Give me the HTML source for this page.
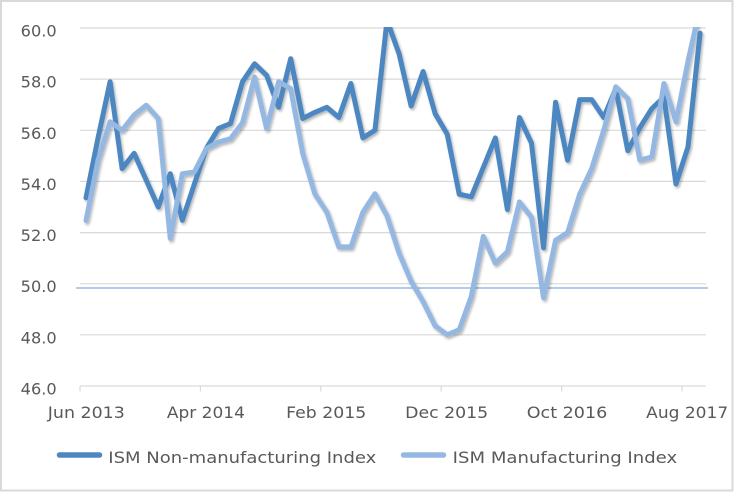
<!DOCTYPE html>
<html>
<head>
<meta charset="utf-8">
<style>
  html, body { margin: 0; padding: 0; background: #ffffff; }
  svg { display: block; }
  text { font-family: "DejaVu Sans", "Liberation Sans", sans-serif; fill: #595959; font-size: 16px; }
</style>
</head>
<body>
<svg width="734" height="493" viewBox="0 0 734 493" xmlns="http://www.w3.org/2000/svg">
  <defs>
    <clipPath id="plot">
      <rect x="76" y="27" width="640" height="370"/>
    </clipPath>
    <filter id="sh" x="-5%" y="-5%" width="110%" height="115%">
      <feDropShadow dx="1.5" dy="2" stdDeviation="1.3" flood-color="#000000" flood-opacity="0.28"/>
    </filter>
  </defs>

  <!-- chart border -->
  <rect x="1" y="1" width="731.5" height="489.5" fill="#ffffff" stroke="#d9d9d9" stroke-width="2"/>

  <!-- gridlines -->
  <g stroke="#d9d9d9" stroke-width="1.2">
    <line x1="80" y1="28" x2="706" y2="28"/>
    <line x1="80" y1="79.1" x2="706" y2="79.1"/>
    <line x1="80" y1="130.3" x2="706" y2="130.3"/>
    <line x1="80" y1="181.4" x2="706" y2="181.4"/>
    <line x1="80" y1="232.6" x2="706" y2="232.6"/>
    <line x1="80" y1="283.7" x2="706" y2="283.7"/>
    <line x1="80" y1="334.8" x2="706" y2="334.8"/>
    <line x1="80" y1="386" x2="706" y2="386"/>
  </g>
  <!-- ticks -->
  <g stroke="#d9d9d9" stroke-width="1.2">
    <line x1="80" y1="386" x2="80" y2="391.5"/>
    <line x1="200.4" y1="386" x2="200.4" y2="391.5"/>
    <line x1="320.8" y1="386" x2="320.8" y2="391.5"/>
    <line x1="441.2" y1="386" x2="441.2" y2="391.5"/>
    <line x1="561.6" y1="386" x2="561.6" y2="391.5"/>
    <line x1="682" y1="386" x2="682" y2="391.5"/>
  </g>

  <!-- 50 reference line -->
  <line x1="76" y1="288" x2="708" y2="288" stroke="#5b9bd5" stroke-width="1"/>

  <!-- y labels -->
  <g text-anchor="end">
    <text x="56.7" y="36.5" textLength="36" lengthAdjust="spacingAndGlyphs">60.0</text>
    <text x="56.7" y="87.6" textLength="36" lengthAdjust="spacingAndGlyphs">58.0</text>
    <text x="56.7" y="138.8" textLength="36" lengthAdjust="spacingAndGlyphs">56.0</text>
    <text x="56.7" y="189.9" textLength="36" lengthAdjust="spacingAndGlyphs">54.0</text>
    <text x="56.7" y="241.1" textLength="36" lengthAdjust="spacingAndGlyphs">52.0</text>
    <text x="56.7" y="292.2" textLength="36" lengthAdjust="spacingAndGlyphs">50.0</text>
    <text x="56.7" y="343.3" textLength="36" lengthAdjust="spacingAndGlyphs">48.0</text>
    <text x="56.7" y="394.5" textLength="36" lengthAdjust="spacingAndGlyphs">46.0</text>
  </g>

  <!-- x labels -->
  <g text-anchor="middle">
    <text x="86.3" y="418" textLength="77" lengthAdjust="spacingAndGlyphs">Jun 2013</text>
    <text x="205.9" y="418" textLength="78" lengthAdjust="spacingAndGlyphs">Apr 2014</text>
    <text x="326.2" y="418" textLength="80" lengthAdjust="spacingAndGlyphs">Feb 2015</text>
    <text x="446.7" y="418" textLength="83" lengthAdjust="spacingAndGlyphs">Dec 2015</text>
    <text x="567" y="418" textLength="80.5" lengthAdjust="spacingAndGlyphs">Oct 2016</text>
    <text x="687.2" y="418" textLength="82" lengthAdjust="spacingAndGlyphs">Aug 2017</text>
  </g>

  <!-- series -->
  <g clip-path="url(#plot)" fill="none" stroke-width="5" stroke-linejoin="round" stroke-linecap="round" filter="url(#sh)">
    <polyline stroke="#4d87c1" points="86.00,197.8 98.04,137.9 110.08,81.7 122.12,168.6 134.16,153.3 146.20,180.1 158.24,207.0 170.28,173.7 182.32,220.3 194.36,184.0 206.40,148.2 218.44,128.5 230.48,123.6 242.52,81.7 254.56,63.8 266.60,75.3 278.64,107.3 290.68,58.7 302.72,118.5 314.76,112.4 326.80,107.3 338.84,117.5 350.88,83.5 362.92,137.9 374.96,130.3 387.00,20.3 399.04,53.6 411.08,106.0 423.12,71.5 435.16,113.7 447.20,134.1 459.24,194.2 471.28,196.8 483.32,167.4 495.36,137.9 507.40,209.5 519.44,117.5 531.48,143.1 543.52,247.9 555.56,102.2 567.60,160.2 579.64,99.6 591.68,99.6 603.72,117.5 615.76,88.6 627.80,150.7 639.84,127.7 651.88,108.5 663.92,97.0 675.96,184.0 688.00,146.9 700.04,33.1"/>
    <polyline stroke="#95b8e2" points="86.00,220.5 98.04,160.2 110.08,121.8 122.12,130.3 134.16,114.9 146.20,105.2 158.24,118.5 170.28,238.4 182.32,173.7 194.36,172.0 206.40,148.4 218.44,142.0 230.48,138.7 242.52,122.6 254.56,77.1 266.60,128.5 278.64,81.7 290.68,88.6 302.72,153.5 314.76,193.7 326.80,212.1 338.84,246.9 350.88,246.9 362.92,212.1 374.96,193.7 387.00,215.9 399.04,253.0 411.08,281.1 423.12,301.6 435.16,325.9 447.20,334.8 459.24,329.7 471.28,296.5 483.32,236.4 495.36,263.2 507.40,251.7 519.44,201.9 531.48,217.2 543.52,297.8 555.56,240.2 567.60,232.6 579.64,194.2 591.68,168.6 603.72,130.3 615.76,86.8 627.80,98.6 639.84,160.2 651.88,156.9 663.92,83.5 675.96,121.8 688.00,61.2 700.04,7.5"/>
  </g>

  <!-- legend -->
  <line x1="59.5" y1="455" x2="99.5" y2="455" stroke="#4d87c1" stroke-width="5.5" stroke-linecap="round"/>
  <text x="108.3" y="463" textLength="268" lengthAdjust="spacingAndGlyphs">ISM Non-manufacturing Index</text>
  <line x1="403.5" y1="455" x2="443.5" y2="455" stroke="#95b8e2" stroke-width="5.5" stroke-linecap="round"/>
  <text x="452.7" y="463" textLength="224.5" lengthAdjust="spacingAndGlyphs">ISM Manufacturing Index</text>
</svg>
</body>
</html>
